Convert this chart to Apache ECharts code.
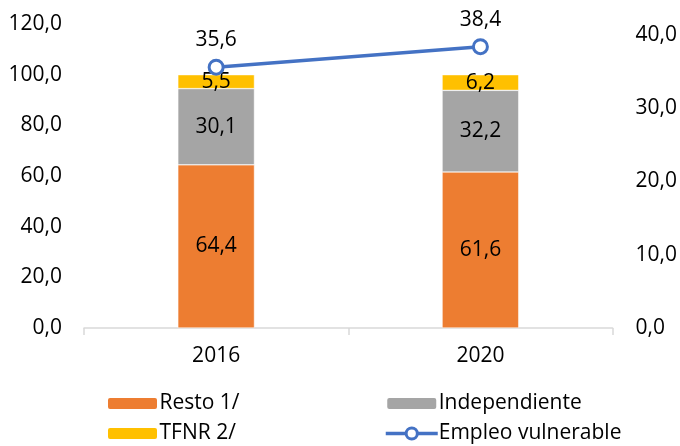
<!DOCTYPE html>
<html><head><meta charset="utf-8">
<script src="https://cdn.jsdelivr.net/npm/echarts@6/dist/echarts.min.js"></script>
<style>html,body{margin:0;padding:0;background:#fff}#c{width:680px;height:446px}</style>
</head><body><div id="c"></div>
<script>
const categories = ['2016', '2020'];
const resto = [64.4, 61.6];
const independiente = [30.1, 32.2];
const tfnr = [5.5, 6.2];
const empleoVulnerable = [35.6, 38.4];
const leftTicks = [0, 20, 40, 60, 80, 100, 120];
const rightTicks = [0, 10, 20, 30, 40];

const FONT = 'Open Sans';
const FS = 21;
const fmt = v => Number(v).toFixed(1).replace('.', ',');
const chart = echarts.init(document.getElementById('c'), null, {renderer: 'canvas'});
const barLabel = {show: true, position: 'inside', color: '#000', fontFamily: FONT, fontSize: FS, formatter: p => fmt(p.value)};
const legendText = {fontFamily: FONT, fontSize: FS, color: '#000', padding: [0, 0, 0, -4]};
const legendCommon = {top: 393, orient: 'vertical', padding: 0, height: 53, itemWidth: 52, itemHeight: 14, itemGap: 9,
  textStyle: legendText, lineStyle: {width: 3.5}, itemStyle: {borderWidth: 3}};
chart.setOption({
  animation: false,
  textStyle: {fontFamily: FONT},
  grid: {left: 84, right: 67, top: 24, bottom: 118},
  legend: [
    Object.assign({left: 105, data: ['Resto 1/', 'TFNR 2/']}, legendCommon),
    Object.assign({left: 384, data: ['Independiente', 'Empleo vulnerable']}, legendCommon)
  ],
  xAxis: {
    type: 'category', data: categories,
    axisLine: {lineStyle: {color: '#D9D9D9', width: 1.5}},
    axisTick: {show: true, length: 7, lineStyle: {color: '#D9D9D9', width: 1.5}},
    axisLabel: {color: '#000', fontFamily: FONT, fontSize: FS, margin: 18}
  },
  yAxis: [
    {type: 'value', min: leftTicks[0], max: leftTicks[leftTicks.length - 1], interval: 20,
     splitLine: {show: false}, axisLine: {show: false}, axisTick: {show: false},
     axisLabel: {color: '#000', fontFamily: FONT, fontSize: FS, margin: 22, formatter: v => fmt(v)}},
    {type: 'value', min: rightTicks[0], max: 41.5, interval: 10,
     splitLine: {show: false}, axisLine: {show: false}, axisTick: {show: false},
     axisLabel: {color: '#000', fontFamily: FONT, fontSize: FS, margin: 23, showMaxLabel: false,
       formatter: v => (rightTicks.indexOf(v) >= 0 ? fmt(v) : '')}}
  ],
  series: [
    {name: 'Resto 1/', type: 'bar', stack: 'a', data: resto, barWidth: '29%',
     itemStyle: {color: '#ED7D31', borderColor: '#fff', borderWidth: 0.5}, label: barLabel},
    {name: 'Independiente', type: 'bar', stack: 'a', data: independiente,
     itemStyle: {color: '#A5A5A5', borderColor: '#fff', borderWidth: 0.5}, label: barLabel},
    {name: 'TFNR 2/', type: 'bar', stack: 'a', data: tfnr,
     itemStyle: {color: '#FFC000', borderColor: '#fff', borderWidth: 0.5}, label: barLabel},
    {name: 'Empleo vulnerable', type: 'line', yAxisIndex: 1, data: empleoVulnerable,
     symbol: 'circle', symbolSize: 14,
     lineStyle: {color: '#4472C4', width: 3.5},
     itemStyle: {color: '#fff', borderColor: '#4472C4', borderWidth: 3},
     label: {show: true, position: 'top', distance: 8, color: '#000', fontFamily: FONT, fontSize: FS, formatter: p => fmt(p.value)}}
  ]
});
</script></body></html>
